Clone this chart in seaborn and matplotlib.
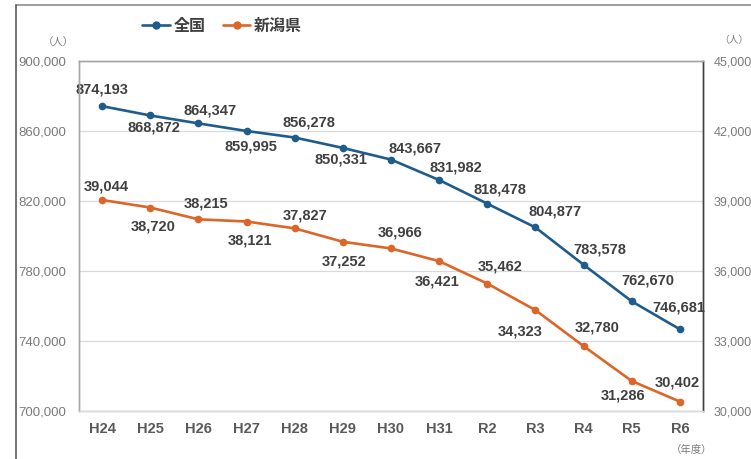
import matplotlib
matplotlib.use("Agg")
import matplotlib.pyplot as plt
from matplotlib.lines import Line2D
import seaborn as sns
import pandas as pd

# 年度別 児童生徒数（全国／新潟県）
years = ["H24", "H25", "H26", "H27", "H28", "H29", "H30", "H31", "R2", "R3", "R4", "R5", "R6"]
national = [874193, 868872, 864347, 859995, 856278, 850331, 843667, 831982,
            818478, 804877, 783578, 762670, 746681]
niigata = [39044, 38720, 38215, 38121, 37827, 37252, 36966, 36421,
           35462, 34323, 32780, 31286, 30402]

# label offsets in pixels (dx, dy) relative to each point
national_offsets = [(0, 17), (4, -12), (12, 13), (4, -15), (14, 15), (-2, -12), (24, 11),
                    (17, 13), (13, 14), (20, 16), (16, 15), (16, 21), (-1, 22)]
niigata_offsets = [(4, 13), (3, -19), (8, 16), (3, -19), (10, 13), (1, -20), (9, 16),
                   (-2, -20), (13, 17), (-15, -21), (14, 19), (-9, -15), (-3, 19)]

BLUE = "#1f5c8c"
ORANGE = "#dd6527"
LABEL = "#404040"
TICK = "#7a7a7a"
PX = 72 / 100  # points per pixel at 100 dpi

sns.set_theme(style="white")
plt.rcParams["font.family"] = ["Liberation Sans", "Noto Sans CJK JP", "DejaVu Sans"]

df = pd.DataFrame({"idx": range(len(years)), "year": years,
                   "全国": national, "新潟県": niigata})

fig = plt.figure(figsize=(7.51, 4.59), dpi=100)
ax = fig.add_axes([79 / 751, 1 - 411 / 459, (703 - 79) / 751, (411 - 61) / 459])
ax2 = ax.twinx()

sns.lineplot(data=df, x="idx", y="全国", ax=ax, color=BLUE, marker="o",
             markersize=5.5, markeredgewidth=0, linewidth=1.9, label="全国", legend=False)
sns.lineplot(data=df, x="idx", y="新潟県", ax=ax2, color=ORANGE, marker="o",
             markersize=5.5, markeredgewidth=0, linewidth=1.9, label="新潟県", legend=False)

ax.set_xlim(-0.48, len(years) - 1 + 0.48)
ax.set_ylim(700000, 900000)
ax2.set_ylim(30000, 45000)
ax.set_yticks(range(700000, 900001, 40000))
ax2.set_yticks(range(30000, 45001, 3000))
ax.set_xticks(range(len(years)))
ax.set_xticklabels(years, fontsize=10.5, fontweight="bold", color="#595959")
ax.yaxis.set_major_formatter(matplotlib.ticker.FuncFormatter(lambda v, p: f"{int(v):,}"))
ax2.yaxis.set_major_formatter(matplotlib.ticker.FuncFormatter(lambda v, p: f"{int(v):,}"))
ax.tick_params(axis="y", labelsize=9.5, labelcolor=TICK, length=0, pad=13 * PX)
ax2.tick_params(axis="y", labelsize=9, labelcolor=TICK, length=0, pad=11 * PX)
ax.tick_params(axis="x", length=0, pad=11 * PX)
ax.set_xlabel("")
ax.set_ylabel("")
ax2.set_ylabel("")

ax.grid(axis="y", color="#d9d9d9", linewidth=0.9)
ax.set_axisbelow(True)
for a in (ax, ax2):
    a.spines["top"].set_color("#a6a6a6")
    a.spines["left"].set_color("#a6a6a6")
    a.spines["bottom"].set_color("#d9d9d9")
    a.spines["right"].set_color("#404040")
    for s in a.spines.values():
        s.set_linewidth(1.0)

for i, (v, (dx, dy)) in enumerate(zip(national, national_offsets)):
    ax.annotate(f"{v:,}", (i, v), xytext=(dx, dy), textcoords="offset pixels",
                ha="center", va="center", fontsize=10.5, fontweight="bold", color=LABEL)
for i, (v, (dx, dy)) in enumerate(zip(niigata, niigata_offsets)):
    ax2.annotate(f"{v:,}", (i, v), xytext=(dx, dy), textcoords="offset pixels",
                 ha="center", va="center", fontsize=10.5, fontweight="bold", color=LABEL)

# unit captions
cjk = ["Noto Sans CJK JP", "DejaVu Sans"]
fig.text(58 / 751, 1 - 43 / 459, "（人）", fontsize=7.5, color=TICK, ha="center", va="center", family=cjk)
fig.text(749 / 751, 1 - 40 / 459, "（人）", fontsize=7, color=TICK, ha="right", va="center", family=cjk)
fig.text(692 / 751, 1 - 450 / 459, "（年度）", fontsize=7.5, color=TICK, ha="center", va="center", family=cjk)

# legend
handles = [Line2D([], [], color=BLUE, marker="o", markersize=5, linewidth=1.9),
           Line2D([], [], color=ORANGE, marker="o", markersize=5, linewidth=1.9)]
fig.legend(handles, ["全国", "新潟県"], loc="center left", bbox_to_anchor=(128 / 751, 1 - 26 / 459),
           ncol=2, frameon=False, handlelength=1.7, handletextpad=0.25, columnspacing=1.1,
           prop={"family": cjk, "size": 11.5, "weight": "bold"}, labelcolor="#404040")

# outer frame of the figure panel
fig.add_artist(Line2D([16 / 751, 1], [1 - 5 / 459, 1 - 5 / 459], transform=fig.transFigure,
                      color="#8c8c8c", linewidth=1.2))
fig.add_artist(Line2D([16 / 751, 16 / 751], [0, 1 - 5 / 459], transform=fig.transFigure,
                      color="#595959", linewidth=1.2))

fig.savefig("out.png", dpi=100)
